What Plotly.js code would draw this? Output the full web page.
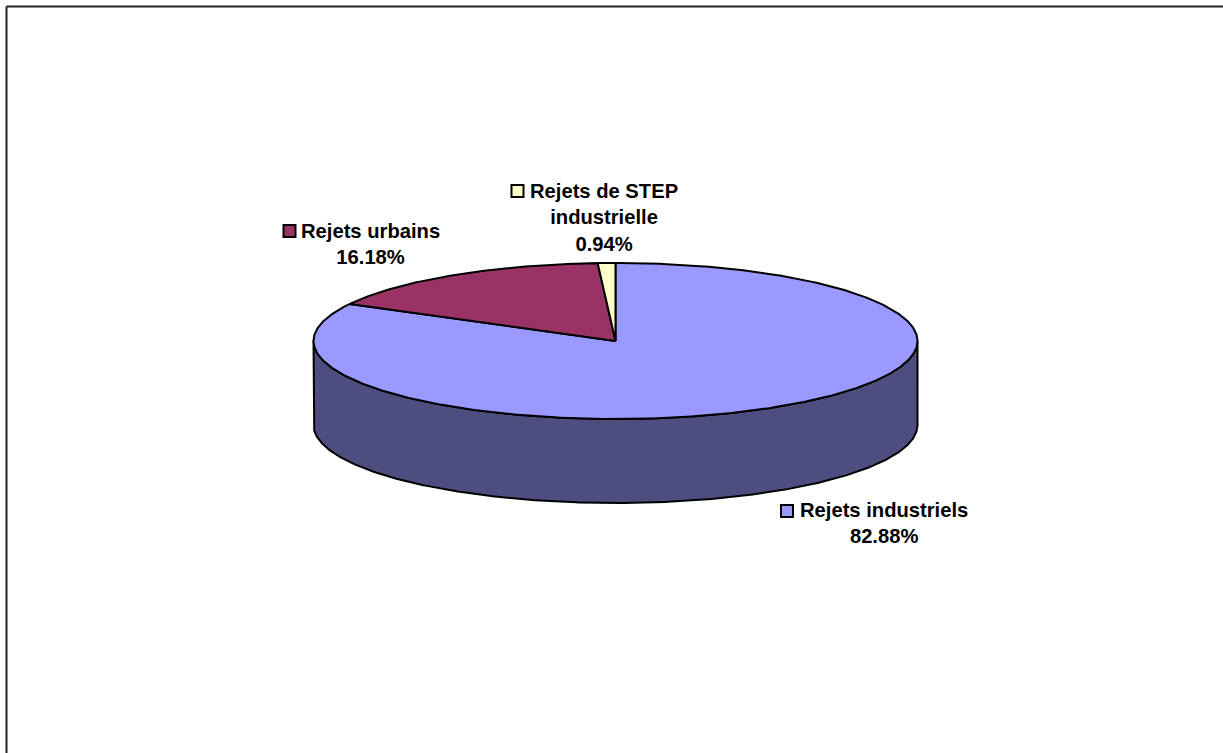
<!DOCTYPE html>
<html>
<head>
<meta charset="utf-8">
<script src="https://cdn.plot.ly/plotly-3.0.1.min.js"></script>
<style>html,body{margin:0;padding:0;background:#fff}#chart{width:1223px;height:753px}</style>
</head>
<body>
<div id="chart"></div>
<script>
// Shares of discharges, in clockwise order from twelve o'clock.
const categories = ['Rejets industriels', 'Rejets urbains', 'Rejets de STEP<br>industrielle'];
const shares = [82.88, 16.18, 0.94];
const topColors = ['#9999FF', '#993366', '#FFFFCC'];
const sideColors = ['#4D4D80', '#4D1A33', '#808066'];
const labelCenters = [[883.5, 522.5], [370.5, 243.5], [604, 217]];
const keyCenters = [[787, 511], [289.5, 231], [517.5, 191]];

// Tilted disc geometry, in page pixels.
const cx = 615.5, cy = 341, rx = 302, ry = 78, depth = 84;

const point = (deg, drop) => {
  const a = deg * Math.PI / 180;
  return [cx + rx * Math.sin(a), cy - ry * Math.cos(a) + drop];
};
const arc = (from, to, drop) => {
  const pts = [], steps = Math.max(2, Math.ceil(Math.abs(to - from) * 2));
  for (let i = 0; i <= steps; i++) pts.push(point(from + (to - from) * i / steps, drop));
  return pts;
};
const polygon = (pts, color, name) => ({
  type: 'scatter', mode: 'lines', fill: 'toself', fillcolor: color, name,
  x: pts.map(p => p[0]), y: pts.map(p => p[1]),
  line: {color: '#000', width: 2, shape: 'linear'},
  hoverinfo: 'name', showlegend: false
});

const total = shares.reduce((s, v) => s + v, 0);
const walls = [], tops = [];
let start = 0;
shares.forEach((v, i) => {
  const end = start + v / total * 360;
  // The wall is only visible on the front half of the disc.
  const a = Math.max(start, 90), b = Math.min(end, 270);
  if (b > a) walls.push(polygon([...arc(a, b, 0), ...arc(b, a, depth), point(a, 0)], sideColors[i], categories[i]));
  tops.push(polygon([[cx, cy], ...arc(start, end, 0), [cx, cy]], topColors[i], categories[i]));
  start = end;
});

const keys = {
  type: 'scatter', mode: 'markers', showlegend: false, hoverinfo: 'skip',
  x: keyCenters.map(k => k[0]), y: keyCenters.map(k => k[1]),
  marker: {symbol: 'square', size: 12, color: topColors, line: {color: '#000', width: 2}}
};

const labelFont = {family: 'Liberation Sans, Arial, sans-serif', size: 20.2, color: '#000'};
const annotations = categories.map((c, i) => ({
  xref: 'x', yref: 'y', x: labelCenters[i][0], y: labelCenters[i][1],
  text: '<b>' + c.replace('<br>', '</b><br><b>') + '</b><br><b>' + shares[i].toFixed(2) + '%</b>',
  showarrow: false, align: 'center', xanchor: 'center', yanchor: 'middle', font: labelFont
}));

const layout = {
  width: 1223, height: 753,
  margin: {l: 0, r: 0, t: 0, b: 0},
  paper_bgcolor: '#fff', plot_bgcolor: '#fff',
  xaxis: {range: [0, 1223], visible: false, fixedrange: true},
  yaxis: {range: [753, 0], visible: false, fixedrange: true},
  showlegend: false,
  annotations,
  // Outer chart frame; only its top and left edges fall on the page.
  shapes: [
    {type: 'line', xref: 'paper', yref: 'paper', x0: 6.5 / 1223, x1: 1, y0: 1 - 6.5 / 753, y1: 1 - 6.5 / 753, line: {color: '#222', width: 2}},
    {type: 'line', xref: 'paper', yref: 'paper', x0: 6.5 / 1223, x1: 6.5 / 1223, y0: 0, y1: 1 - 6.5 / 753, line: {color: '#222', width: 2}}
  ]
};

Plotly.newPlot('chart', [...walls, ...tops, keys], layout, {displayModeBar: false, staticPlot: true});
</script>
</body>
</html>
